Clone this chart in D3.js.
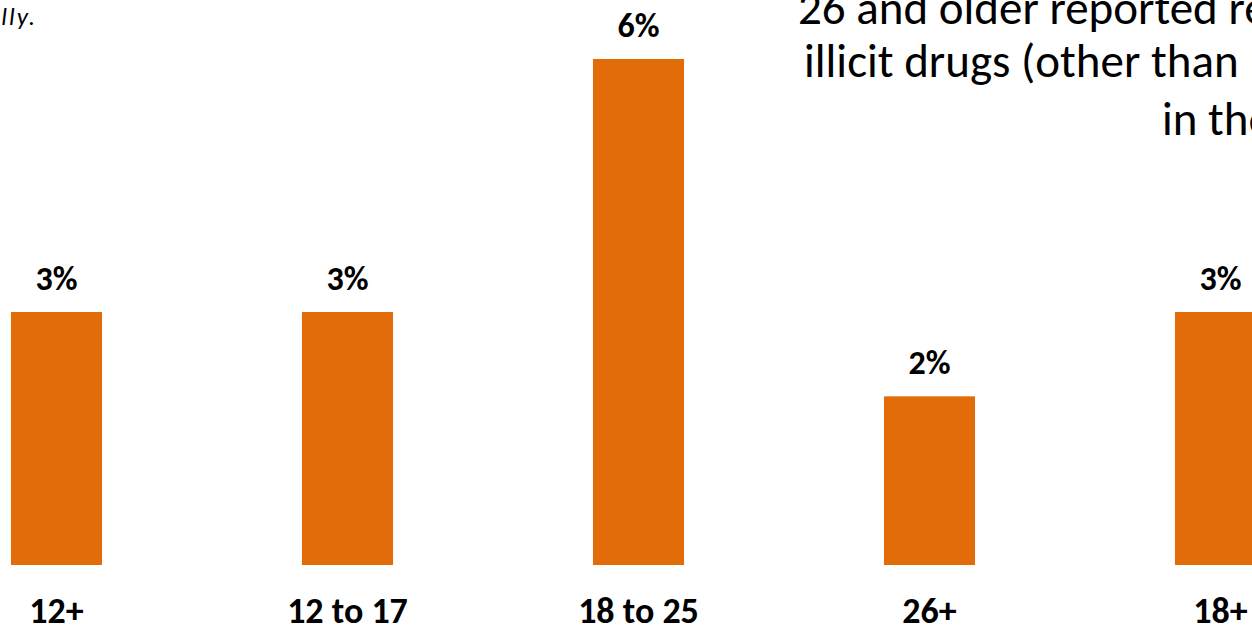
<!DOCTYPE html>
<html>
<head>
<meta charset="utf-8">
<script src="https://cdn.jsdelivr.net/npm/d3@7/dist/d3.min.js"></script>
<style>
  html, body { margin: 0; padding: 0; background: #ffffff; overflow: hidden; }
  svg { display: block; }
  text { font-family: Carlito, "Open Sans", "Noto Sans", sans-serif; }
</style>
</head>
<body>
<svg id="chart" width="1252" height="628"></svg>
<script>
// Data
const categories = ["12+", "12 to 17", "18 to 25", "26+", "18+"];
const values = [3, 3, 6, 2, 3];
const valueLabels = ["3%", "3%", "6%", "2%", "3%"];
const titleLines = ["26 and older reported receiving", "illicit drugs (other than marijuana)", "in the past year"];
const noteText = "reported annually.";

const W = 1252, H = 628;
const svg = d3.select("#chart");

const x = d3.scaleBand()
  .domain(categories)
  .range([-89, -89 + 5 * 291])
  .paddingInner(0.687)
  .paddingOuter(0.3435);

const y = d3.scaleLinear().domain([0, 6]).range([565, 59]);

// bars
svg.append("g").selectAll("rect")
  .data(values)
  .join("rect")
  .attr("x", (d, i) => x(categories[i]))
  .attr("y", d => y(d))
  .attr("width", x.bandwidth())
  .attr("height", d => y(0) - y(d))
  .attr("fill", "#E36C0A");

// value labels
svg.append("g").selectAll("text")
  .data(values)
  .join("text")
  .attr("x", (d, i) => x(categories[i]) + x.bandwidth() / 2)
  .attr("y", d => y(d) - 22)
  .attr("text-anchor", "middle")
  .attr("font-weight", "bold")
  .attr("font-size", 34)
  .attr("fill", "#000")
  .text((d, i) => valueLabels[i]);

// category axis labels
const xAxis = d3.axisBottom(x).tickSize(0).tickPadding(0);
const axisG = svg.append("g").attr("transform", "translate(0,565)").call(xAxis);
axisG.select(".domain").remove();
axisG.selectAll("text")
  .attr("dy", null)
  .attr("y", 58)
  .attr("font-weight", "bold")
  .attr("font-size", 36)
  .attr("fill", "#000")
  .style("font-family", 'Carlito, "Open Sans", "Noto Sans", sans-serif');

// title block (cut off at the right edge)
const titleX = [798, 804, 1162];
const titleY = [24, 77, 135];
svg.append("g").selectAll("text")
  .data(titleLines)
  .join("text")
  .attr("x", (d, i) => titleX[i])
  .attr("y", (d, i) => titleY[i])
  .attr("font-size", 47)
  .attr("fill", "#000")
  .text(d => d);

// note (cut off at the left edge)
svg.append("text")
  .attr("x", 37)
  .attr("y", 25)
  .attr("text-anchor", "end")
  .attr("font-style", "italic")
  .attr("font-size", 25)
  .attr("letter-spacing", 2)
  .attr("fill", "#000")
  .text(noteText);
</script>
</body>
</html>
